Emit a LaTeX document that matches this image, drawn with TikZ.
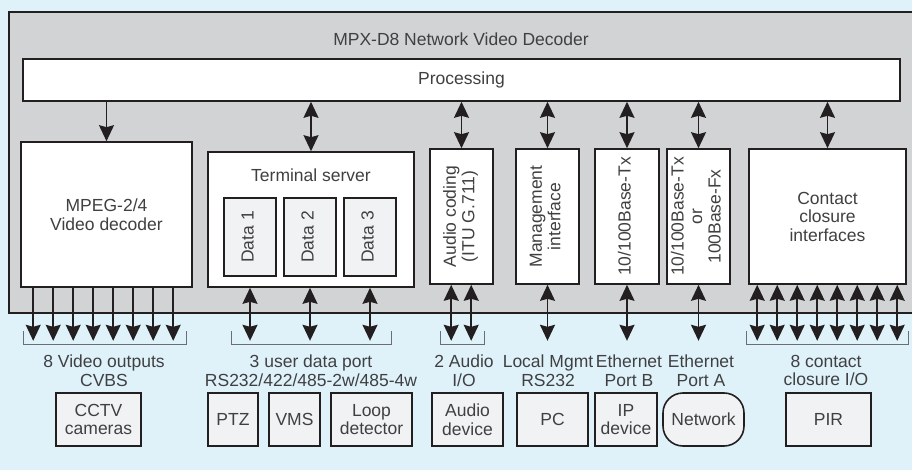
\documentclass[tikz,border=0pt]{standalone}
\usepackage{fontspec}
\setmainfont{Liberation Sans}
\usetikzlibrary{arrows.meta,positioning}
\definecolor{bgblue}{HTML}{DFF2FA}
\definecolor{casegray}{HTML}{D1D3D4}
\definecolor{panelgray}{HTML}{F1F2F3}
\definecolor{linedark}{HTML}{231F20}
\definecolor{textdark}{HTML}{404042}
\definecolor{brkgray}{HTML}{6D6E71}
\newcommand{\rottext}[1]{\rotatebox{90}{\begin{tabular}{@{}c@{}}#1\end{tabular}}}

\begin{document}
\begin{tikzpicture}[line join=miter,x=1pt,y=-1pt,
    every node/.style={font=\fontsize{17.5}{18.5}\selectfont, text=textdark},
    blk/.style={draw=linedark, line width=1.6pt, fill=white, inner sep=0pt, align=center},
    sub/.style={blk, fill=panelgray},
    txt/.style={inner sep=0pt, align=center},
    lbl/.style={txt, anchor=north},
    arr/.style={draw=linedark, line width=1.5pt, -{Stealth[length=16pt,width=15pt,inset=2pt]}},
    darr/.style={draw=linedark, line width=1.6pt, {Stealth[length=16pt,width=15pt,inset=2pt]}-{Stealth[length=16pt,width=15pt,inset=2pt]}},
    brk/.style={draw=brkgray, line width=1pt}]
                \path [use as bounding box, fill=bgblue] (0,0) rectangle (912,470);
                \draw [draw=linedark, line width=2.6pt, fill=casegray] (9,12) rectangle (920,313);

                \node [txt] (title) at (461,39) {MPX-D8 Network Video Decoder};
                \node [blk, minimum width=877pt, minimum height=42pt] (proc) at (461.5,80) {Processing};

                \node [blk, minimum width=171pt, minimum height=145pt] (mpeg) at (106.5,214.5) {MPEG-2/4\\Video decoder};
                \node [blk, minimum width=206pt, minimum height=135pt] (ts) at (311,219.5) {};
                \node [txt, below=17pt of ts.north] (tstitle) {Terminal server};
                \foreach \i/\x in {1/250,2/310,3/370}
                    \node [sub, minimum width=52pt, minimum height=78pt] (d\i) at (\x,237) {\rottext{Data \i}};
                \node [blk, minimum width=63pt, minimum height=135pt] (aud) at (461.5,216.5) {\rottext{Audio coding\\(ITU G.711)}};
                \node [blk, minimum width=63pt, minimum height=135pt] (mgmt) at (547.5,216.5) {\rottext{Management\\interface}};
                \node [blk, minimum width=64pt, minimum height=135pt] (ethb) at (627,216.5) {\rottext{10/100Base-Tx}};
                \node [blk, minimum width=63pt, minimum height=135pt] (etha) at (698.5,216.5) {\rottext{10/100Base-Tx\\or\\100Base-Fx}};
                \node [blk, minimum width=157pt, minimum height=135pt] (cc) at (827.5,216.5) {Contact\\closure\\interfaces};

                \draw [arr] (mpeg.north |- proc.south) -- (mpeg.north);
                \foreach \n in {ts,aud,mgmt,ethb,etha,cc}
                    \draw [darr] (\n.north |- proc.south) -- (\n.north);

                \foreach \i in {0,...,7}
                    \draw [arr] ([xshift=13pt+20pt*\i]mpeg.south west) -- ++(0,53);
                \foreach \i in {1,2,3}
                    \draw [darr] (d\i.south |- ts.south) -- ++(0,53);
                \foreach \dx in {22,42}
                    \draw [darr] ([xshift=\dx pt]aud.south west) -- ++(0,56);
                \foreach \n in {mgmt,ethb,etha}
                    \draw [darr] (\n.south) -- ++(0,56);
                \foreach \i in {0,...,7}
                    \draw [darr] ([xshift=9pt+20pt*\i]cc.south west) -- ++(0,56);

                \draw [brk] (23,331) |- (186,344) -- (186,331);
                \draw [brk] (231,331) |- (391,344) -- (391,331);
                \draw [brk] (440,331) |- (484,344) -- (484,331);
                \draw [brk] (746,331) |- (908,344) -- (908,331);

                \node [lbl] (vidlbl) at (104,355) {8 Video outputs\\CVBS};
                \node [lbl] (datalbl) at (311,355) {3 user data port\\RS232/422/485-2w/485-4w};
                \node [lbl] (audlbl) at (464,355) {2 Audio\\I/O};
                \node [lbl] (mgmtlbl) at (548,355) {Local Mgmt\\RS232};
                \node [lbl] (ethblbl) at (629,355) {Ethernet\\Port B};
                \node [lbl] (ethalbl) at (701,355) {Ethernet\\Port A};
                \node [lbl] (cclbl) at (826,355) {8 contact\\closure I/O};

                \node [sub, minimum width=85pt, minimum height=53pt] (cctv) at (98.5,419.5) {CCTV\\cameras};
                \node [sub, minimum width=50pt, minimum height=53pt] (ptz) at (233,419.5) {PTZ};
                \node [sub, minimum width=51pt, minimum height=53pt] (vms) at (294.5,419.5) {VMS};
                \node [sub, minimum width=81pt, minimum height=53pt] (loop) at (371.5,419.5) {Loop\\detector};
                \node [sub, minimum width=71pt, minimum height=53pt] (audev) at (467.5,419.5) {Audio\\device};
                \node [sub, minimum width=71pt, minimum height=53pt] (pc) at (552.5,419.5) {PC};
                \node [sub, minimum width=62pt, minimum height=53pt] (ipdev) at (626,419.5) {IP\\device};
                \node [sub, rounded corners=20pt, minimum width=81pt, minimum height=53pt] (net) at (703.5,419.5) {Network};
                \node [sub, minimum width=85pt, minimum height=53pt] (pir) at (828.5,419.5) {PIR};
\end{tikzpicture}
\end{document}
